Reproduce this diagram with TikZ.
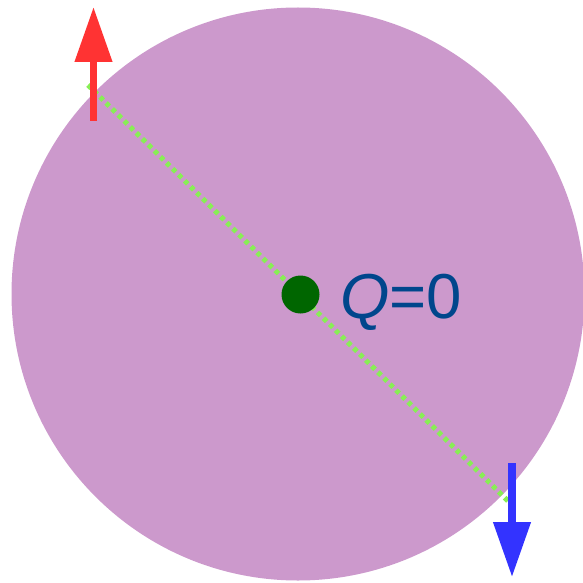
\documentclass[tikz,border=0pt]{standalone}
\usepackage{fontspec}
\setmainfont{Liberation Sans}
\usetikzlibrary{arrows.meta}
\definecolor{diskcol}{HTML}{CC99CC}
\definecolor{dotline}{HTML}{88EE55}
\definecolor{upred}{HTML}{FF3333}
\definecolor{downblue}{HTML}{3333FF}
\definecolor{chargegreen}{HTML}{006600}
\definecolor{labelblue}{HTML}{00468C}
\tikzset{
  spinarrow/.style={line width=7.5pt, -{Triangle[width=36pt,length=55pt]}},
  axisline/.style={dotline, line width=5pt, dash pattern=on 4.5pt off 4pt},
}
\begin{document}
\begin{tikzpicture}[x=1pt,y=-1pt]
\useasboundingbox (0,0) rectangle (582,583);
\node[circle, fill=diskcol, minimum size=573pt, inner sep=0pt] (disk) at (298,294) {};
\coordinate (lineA) at (88,85);
\coordinate (lineB) at (508,501);
\draw[axisline] (lineA) -- (lineB);
\coordinate (upS) at (93.5,121);
\coordinate (upE) at (93.5,7);
\draw[spinarrow, upred] (upS) -- (upE);
\coordinate (downS) at (512,463);
\coordinate (downE) at (512,577);
\draw[spinarrow, downblue] (downS) -- (downE);
\node[circle, fill=chargegreen, minimum size=38pt, inner sep=0pt] (charge) at (300.5,294.5) {};
\node[anchor=base west, inner sep=0pt, text=labelblue, font=\fontsize{63.5pt}{70pt}\selectfont] (qlabel) at (340,318.5) {\textit{Q}=0};
\end{tikzpicture}
\end{document}
